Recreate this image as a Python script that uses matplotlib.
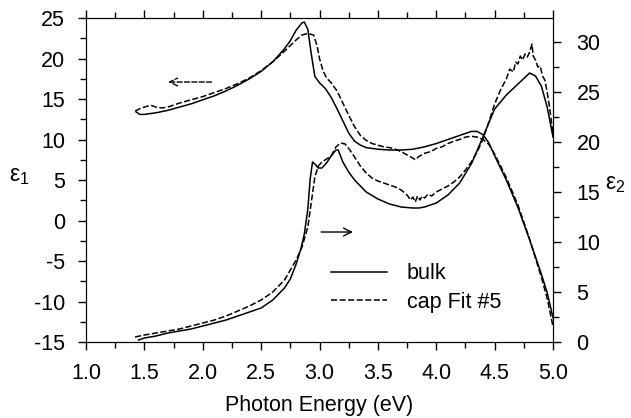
import matplotlib
matplotlib.use("Agg")
import matplotlib.pyplot as plt
from matplotlib.ticker import MultipleLocator

plt.rcParams['font.family'] = ['Liberation Sans', 'DejaVu Sans']
plt.rcParams['mathtext.default'] = 'regular'
plt.rcParams['axes.unicode_minus'] = False

# eps1, bulk (solid) and cap fit (dashed), left axis
e1_bulk_x = [1.43, 1.46, 1.5, 1.6, 1.7, 1.8, 1.9, 2.0, 2.1, 2.2, 2.3, 2.4, 2.5, 2.6, 2.7, 2.75,
             2.8, 2.85, 2.87, 2.9, 2.93, 2.96, 3.0, 3.05, 3.1, 3.15, 3.2, 3.25, 3.3, 3.35, 3.4,
             3.5, 3.6, 3.7, 3.8, 3.9, 4.0, 4.1, 4.2, 4.3, 4.35, 4.4, 4.45, 4.5, 4.6, 4.7, 4.8,
             4.9, 4.95, 5.0]
e1_bulk_y = [13.4, 13.1, 13.1, 13.3, 13.6, 14.0, 14.4, 14.9, 15.4, 16.0, 16.7, 17.5, 18.4, 19.6,
             21.2, 22.2, 23.5, 24.4, 24.5, 23.6, 20.5, 17.8, 17.0, 16.3, 15.2, 13.8, 12.3, 10.8,
             9.8, 9.3, 9.0, 8.8, 8.7, 8.7, 8.8, 9.1, 9.5, 10.0, 10.5, 11.0, 11.0, 10.6, 9.6, 8.0,
             5.0, 1.6, -2.4, -6.6, -8.9, -12.0]
e1_cap_x = [1.42, 1.46, 1.52, 1.56, 1.6, 1.65, 1.7, 1.8, 1.9, 2.0, 2.1, 2.2, 2.3, 2.4, 2.5, 2.6,
            2.7, 2.8, 2.85, 2.9, 2.95, 2.98, 3.0, 3.03, 3.06, 3.1, 3.15, 3.2, 3.25, 3.3, 3.35,
            3.4, 3.45, 3.5, 3.55, 3.6, 3.65, 3.7, 3.75, 3.8, 3.82, 3.85, 3.9, 3.95, 4.0, 4.05,
            4.1, 4.15, 4.2, 4.25, 4.3, 4.35, 4.4, 4.45, 4.5, 4.6, 4.7, 4.8, 4.9, 4.95, 5.0]
e1_cap_y = [13.5, 13.8, 14.1, 14.2, 14.0, 13.9, 14.0, 14.5, 14.9, 15.3, 15.8, 16.3, 16.9, 17.6,
            18.5, 19.6, 20.9, 22.3, 22.9, 23.1, 22.9, 21.5, 20.0, 18.5, 17.6, 17.0, 16.0, 14.5,
            13.0, 11.6, 10.5, 9.9, 9.5, 9.3, 9.1, 9.0, 8.8, 8.5, 8.1, 7.7, 7.5, 7.9, 8.3, 8.5,
            8.9, 9.1, 9.5, 9.8, 10.0, 10.3, 10.4, 10.3, 10.0, 9.4, 8.2, 5.3, 1.9, -2.3, -7.0,
            -9.6, -13.1]

# eps2, right axis
e2_bulk_x = [1.45, 1.5, 1.6, 1.7, 1.8, 1.9, 2.0, 2.1, 2.2, 2.3, 2.4, 2.5, 2.6, 2.7, 2.75, 2.8,
             2.84, 2.87, 2.9, 2.92, 2.94, 2.96, 2.99, 3.02, 3.06, 3.1, 3.14, 3.16, 3.2, 3.25,
             3.3, 3.4, 3.5, 3.6, 3.7, 3.8, 3.85, 3.9, 4.0, 4.1, 4.2, 4.3, 4.4, 4.5, 4.6, 4.7,
             4.8, 4.85, 4.9, 4.95, 5.0]
e2_bulk_y = [0.2, 0.4, 0.6, 0.9, 1.1, 1.3, 1.6, 1.9, 2.2, 2.6, 3.0, 3.4, 4.2, 5.4, 6.3, 7.8,
             9.3, 10.8, 13.3, 16.3, 18.0, 17.8, 17.4, 17.4, 17.9, 18.6, 19.2, 19.2, 18.0, 17.0,
             16.2, 15.0, 14.3, 13.8, 13.5, 13.4, 13.4, 13.5, 13.9, 14.7, 15.9, 17.8, 20.5, 23.3,
             24.7, 25.8, 26.9, 26.6, 25.6, 23.5, 20.5]
e2_cap_x = [1.42, 1.5, 1.6, 1.7, 1.8, 1.9, 2.0, 2.1, 2.2, 2.3, 2.4, 2.5, 2.6, 2.7, 2.8, 2.85,
            2.9, 2.93, 2.96, 2.99, 3.02, 3.06, 3.1, 3.14, 3.18, 3.22, 3.26, 3.3, 3.35, 3.4, 3.45,
            3.5, 3.55, 3.6, 3.65, 3.7, 3.75, 3.78, 3.8, 3.82, 3.84, 3.86, 3.88, 3.9, 3.93, 3.96,
            4.0, 4.05, 4.1, 4.15, 4.2, 4.25, 4.3, 4.35, 4.4, 4.45, 4.5, 4.55, 4.6, 4.63, 4.66,
            4.68, 4.7, 4.72, 4.74, 4.76, 4.78, 4.8, 4.82, 4.83, 4.85, 4.87, 4.89, 4.91, 4.93,
            4.95, 4.97, 5.0]
e2_cap_y = [0.5, 0.7, 0.9, 1.1, 1.3, 1.6, 1.9, 2.2, 2.6, 3.1, 3.6, 4.2, 5.0, 6.2, 8.2, 9.5,
            11.5, 14.0, 16.5, 17.6, 18.0, 18.3, 18.6, 19.5, 19.9, 19.8, 19.2, 18.5, 17.6, 16.9,
            16.4, 16.1, 15.9, 15.7, 15.5, 15.2, 14.7, 14.2, 14.5, 14.0, 14.6, 14.2, 14.6, 14.4,
            14.8, 14.6, 15.0, 15.3, 15.6, 16.0, 16.5, 17.2, 18.0, 19.0, 20.3, 22.0, 23.8, 25.2,
            26.3, 27.3, 27.0, 28.0, 27.8, 28.6, 28.2, 28.8, 28.5, 29.0, 29.8, 28.6, 28.2, 27.5,
            27.6, 26.6, 26.2, 25.0, 23.5, 20.8]

fig = plt.figure(figsize=(6.31, 4.18), dpi=100)
ax1 = fig.add_axes([0.1363, 0.1818, 0.7401, 0.7751])
ax2 = ax1.twinx()

lw = 1.1
dash = (4, 1.6)
l_bulk, = ax1.plot(e1_bulk_x, e1_bulk_y, color='black', lw=lw, label='bulk')
l_cap, = ax1.plot(e1_cap_x, e1_cap_y, color='black', lw=lw, dashes=dash, label='cap Fit #5')
ax2.plot(e2_bulk_x, e2_bulk_y, color='black', lw=lw)
ax2.plot(e2_cap_x, e2_cap_y, color='black', lw=lw, dashes=dash)

ax1.set_xlim(1.0, 5.0)
ax1.set_ylim(-15, 25)
ax2.set_ylim(0, 32.4)

ax1.xaxis.set_major_locator(MultipleLocator(0.5))
ax1.xaxis.set_minor_locator(MultipleLocator(0.25))
ax1.yaxis.set_major_locator(MultipleLocator(5))
ax1.yaxis.set_minor_locator(MultipleLocator(2.5))
ax2.yaxis.set_major_locator(MultipleLocator(5))
ax2.yaxis.set_minor_locator(MultipleLocator(2.5))
ax1.xaxis.set_major_formatter(plt.FormatStrFormatter('%.1f'))

fs = 15.5
ax1.tick_params(which='both', direction='out', top=True, labelsize=fs, width=1)
ax1.tick_params(which='major', length=6)
ax1.tick_params(which='minor', length=4)
ax1.tick_params(axis='y', pad=9)
ax1.tick_params(axis='x', pad=9)
ax2.tick_params(which='both', direction='out', labelsize=fs, width=1)
ax2.tick_params(which='major', length=6, pad=11)
ax2.tick_params(which='minor', length=4)

ax1.set_xlabel('Photon Energy (eV)', fontsize=fs, labelpad=8)
fig.text(0.03, 0.58, 'ε$_1$', fontsize=fs + 1, ha='center', va='center')
fig.text(0.975, 0.56, 'ε$_2$', fontsize=fs + 1, ha='center', va='center')

# direction arrows: eps1 -> left axis, eps2 -> right axis
ax1.annotate('', xy=(1.68, 17.1), xytext=(2.1, 17.1),
             arrowprops=dict(arrowstyle='->', lw=1.0, linestyle='--', color='black',
                             mutation_scale=14))
ax2.annotate('', xy=(3.31, 11.0), xytext=(2.99, 11.0),
             arrowprops=dict(arrowstyle='->', lw=1.0, color='black', mutation_scale=14))

ax1.legend(handles=[l_bulk, l_cap], loc='lower right', bbox_to_anchor=(0.93, 0.03),
           frameon=False, fontsize=fs, handlelength=2.6, handletextpad=0.9,
           labelspacing=0.35)

fig.savefig('out.png', dpi=100)
